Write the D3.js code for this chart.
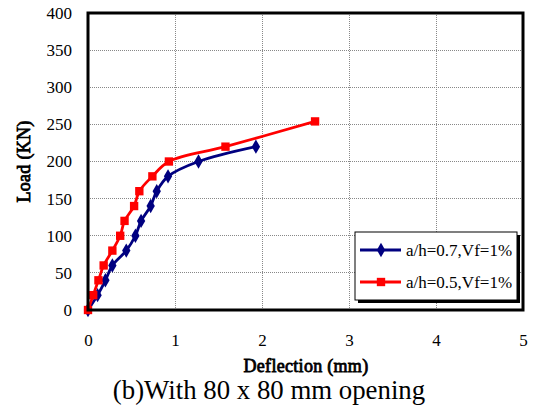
<!DOCTYPE html>
<meta charset="utf-8">
<html>
<head>
<title>load deflection</title>
<style>
body { margin: 0; background: #fff; }
svg { display: block; }
.grid line { stroke: #888; stroke-dasharray: 1,1; shape-rendering: crispEdges; }
.axis path, .axis line { display: none; }
</style>
</head>
<body>
<svg width="537" height="410"></svg>
<script src="https://d3js.org/d3.v7.min.js"></script>
<script>

// a/h=0.7, Vf=1%
var blueX = [0, 0.11, 0.20, 0.28, 0.44, 0.545, 0.61, 0.72, 0.79, 0.92, 1.27, 1.93];
var blueY = [0, 20, 40, 60, 80, 100, 120, 140, 160, 180, 200, 220];
// a/h=0.5, Vf=1%
var redX = [0, 0.06, 0.12, 0.18, 0.28, 0.37, 0.42, 0.53, 0.59, 0.74, 0.93, 1.58, 2.61];
var redY = [0, 20, 40, 60, 80, 100, 120, 140, 160, 180, 200, 220, 254];

var xTicks = [0, 1, 2, 3, 4, 5];
var yTicks = [0, 50, 100, 150, 200, 250, 300, 350, 400];
var seriesNames = ["a/h=0.7,Vf=1%", "a/h=0.5,Vf=1%"];

var serif = "'Liberation Serif', 'Times New Roman', serif";

var svg = d3.select("svg"),
    margin = {top: 13, right: 14, bottom: 100, left: 88},
    width = +svg.attr("width") - margin.left - margin.right,
    height = +svg.attr("height") - margin.top - margin.bottom,
    g = svg.append("g").attr("transform", "translate(" + margin.left + "," + margin.top + ")");

var x = d3.scaleLinear().domain([0, 5]).range([0, width]);
var y = d3.scaleLinear().domain([0, 400]).range([height, 0]);

// grid
g.append("g").attr("class", "grid")
  .selectAll("line").data(yTicks.slice(1, -1)).enter().append("line")
    .attr("x1", 0).attr("x2", width)
    .attr("y1", function(d) { return y(d); }).attr("y2", function(d) { return y(d); });
g.append("g").attr("class", "grid")
  .selectAll("line").data(xTicks.slice(1, -1)).enter().append("line")
    .attr("y1", 0).attr("y2", height)
    .attr("x1", function(d) { return x(d); }).attr("x2", function(d) { return x(d); });

// axes labels
g.append("g").attr("class", "axis")
    .attr("transform", "translate(0," + (height + 10) + ")")
    .call(d3.axisBottom(x).tickValues(xTicks).tickSize(0).tickPadding(14).tickFormat(d3.format("d")));
g.append("g").attr("class", "axis")
    .call(d3.axisLeft(y).tickValues(yTicks).tickSize(0).tickPadding(16).tickFormat(d3.format("d")));
g.selectAll(".axis").attr("font-family", null).attr("font-size", null);
g.selectAll(".axis text")
    .style("font-family", serif)
    .style("font-size", "17px")
    .attr("fill", "#000");

var series = [
  {name: seriesNames[0], color: "#000080", sym: d3.symbolDiamond, size: 60,
   values: blueX.map(function(v, i) { return [v, blueY[i]]; })},
  {name: seriesNames[1], color: "#ff0000", sym: d3.symbolSquare, size: 70,
   values: redX.map(function(v, i) { return [v, redY[i]]; })}
];

var line = d3.line()
    .x(function(d) { return x(d[0]); })
    .y(function(d) { return y(d[1]); })
    .curve(d3.curveCatmullRom.alpha(0.5));

var s = g.selectAll(".series").data(series).enter().append("g").attr("class", "series");
s.append("path")
    .attr("fill", "none")
    .attr("stroke", function(d) { return d.color; })
    .attr("stroke-width", 2.8)
    .attr("d", function(d) { return line(d.values); });
s.each(function(d) {
  d3.select(this).selectAll("path.pt").data(d.values).enter().append("path")
      .attr("class", "pt")
      .attr("transform", function(p) { return "translate(" + x(p[0]) + "," + y(p[1]) + ")"; })
      .attr("fill", d.color)
      .attr("d", d3.symbol().type(d.sym).size(d.size));
});

// plot frame
g.append("rect")
    .attr("width", width).attr("height", height)
    .attr("fill", "none").attr("stroke", "#000").attr("stroke-width", 3);

// legend
var lx = 355, ly = 232, lw = 162, lh = 68;
var legend = svg.append("g");
legend.append("rect").attr("x", lx + 3).attr("y", ly + 3).attr("width", lw).attr("height", lh).attr("fill", "#000");
legend.append("rect").attr("x", lx).attr("y", ly).attr("width", lw).attr("height", lh)
    .attr("fill", "#fff").attr("stroke", "#000").attr("stroke-width", 1);
var item = legend.selectAll(".item").data(series).enter().append("g")
    .attr("transform", function(d, i) { return "translate(" + lx + "," + (ly + 18 + i * 32) + ")"; });
item.append("line").attr("x1", 5).attr("x2", 46).attr("y1", 0).attr("y2", 0)
    .attr("stroke", function(d) { return d.color; }).attr("stroke-width", 2.8);
item.append("path").attr("transform", "translate(26,0)")
    .attr("fill", function(d) { return d.color; })
    .attr("d", function(d) { return d3.symbol().type(d.sym).size(d.size)(); });
item.append("text").attr("x", 51).attr("y", 6)
    .style("font-family", serif).style("font-size", "17px")
    .text(function(d) { return d.name; });

// titles (bold drawn with a thin stroke so the serif face is kept)
function boldTitle(sel) {
  sel.attr("text-anchor", "middle")
    .attr("fill", "#000").attr("stroke", "#000").attr("stroke-width", 0.8)
    .style("font-family", serif).style("font-size", "18px").style("letter-spacing", "0.3px");
}
svg.append("text")
    .attr("transform", "translate(30," + (margin.top + height / 2) + ") rotate(-90)")
    .call(boldTitle)
    .text("Load (KN)");
svg.append("text")
    .attr("x", 306).attr("y", 372)
    .call(boldTitle)
    .text("Deflection (mm)");
svg.append("text")
    .attr("x", 269).attr("y", 399)
    .attr("text-anchor", "middle")
    .style("font-family", serif).style("font-size", "26.8px")
    .text("(b)With 80 x 80 mm opening");

</script>
</body>
</html>
